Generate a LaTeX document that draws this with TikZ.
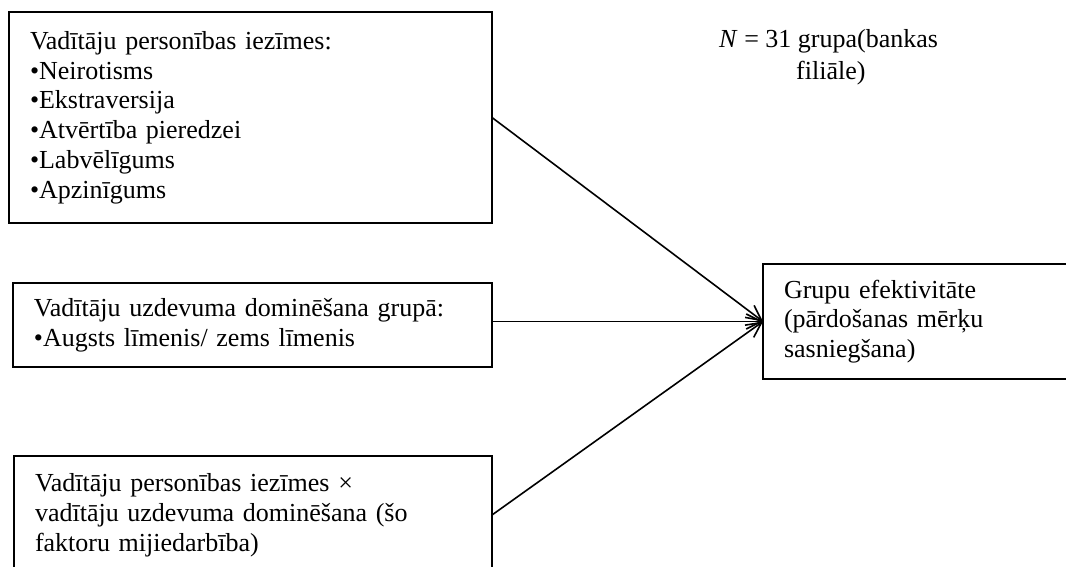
\documentclass[tikz,border=0pt]{standalone}
\usepackage{fontspec}
\setmainfont{Liberation Serif}
\usetikzlibrary{arrows.meta}
\begin{document}
\begin{tikzpicture}[x=1pt,y=-1pt,
  every node/.style={font=\fontsize{26}{29.8}\selectfont},
  factor/.style={draw, line width=2pt, align=left, anchor=north west,
    inner xsep=21pt, inner ysep=0pt, outer sep=0pt},
  link/.style={line width=1.6pt,
    -{Straight Barb[length=15pt,width=15pt,line width=1.6pt]}}]
\useasboundingbox (0,0) rectangle (1066,567);

% influencing factors
\node[factor, text width=441pt, minimum height=211pt] (b1) at (9,12)
  {Vadītāju personības iezīmes:\\
   •Neirotisms\\
   •Ekstraversija\\
   •Atvērtība pieredzei\\
   •Labvēlīgums\\
   •Apzinīgums};
\node[factor, text width=437pt, minimum height=84pt] (b2) at (13,283)
  {Vadītāju uzdevuma dominēšana grupā:\\
   •Augsts līmenis/ zems līmenis};
\node[factor, text width=436pt, minimum height=118pt] (b3) at (14,456)
  {Vadītāju personības iezīmes ×\\
   vadītāju uzdevuma dominēšana (šo\\
   faktoru mijiedarbība)};

% outcome
\node[factor, text width=263pt, minimum height=115pt] (b4) at (763,264)
  {Grupu efektivitāte\\
   (pārdošanas mērķu\\
   sasniegšana)};

% sample size (anchored on the baseline of its second line)
\node[anchor=base west, align=left, inner sep=0pt,
  font=\fontsize{26}{32}\selectfont] (n) at (719,80)
  {\textit{N} = 31 grupa(bankas\\\hspace*{77pt}filiāle)};

% effects
\draw[link] (b1.east) -- (b4.west);
\draw[link] (b2.east |- b4.west) -- (b4.west);
\draw[link] (b3.east) -- (b4.west);
\end{tikzpicture}
\end{document}
